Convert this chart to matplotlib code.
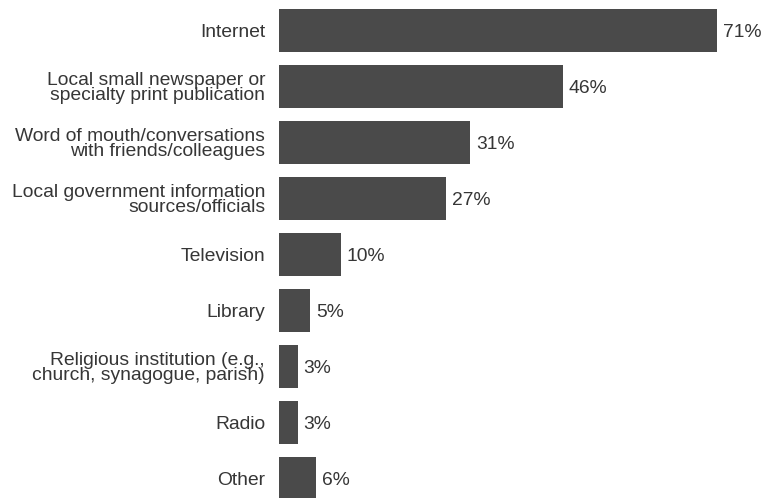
import matplotlib
matplotlib.use("Agg")
import matplotlib.pyplot as plt

categories = [
    "Internet",
    "Local small newspaper or\nspecialty print publication",
    "Word of mouth/conversations\nwith friends/colleagues",
    "Local government information\nsources/officials",
    "Television",
    "Library",
    "Religious institution (e.g.,\nchurch, synagogue, parish)",
    "Radio",
    "Other",
]
values = [71, 46, 31, 27, 10, 5, 3, 3, 6]
value_labels = ["71%", "46%", "31%", "27%", "10%", "5%", "3%", "3%", "6%"]

plt.rcParams['font.family'] = ['Liberation Sans', 'DejaVu Sans']

W, H = 763, 498
fig = plt.figure(figsize=(W / 100, H / 100), dpi=100)
left = 279 / W
ax = fig.add_axes([left, 0, 1 - left, 1])

bar_color = "#4a4a4a"
text_color = "#363636"
ypos = list(range(len(categories)))
ax.barh(ypos, values, height=0.77, color=bar_color)

px_per_unit = 6.17
ax.set_xlim(0, (W - 279) / px_per_unit)
spacing = 56.0
first_center = 30.5
ax.set_ylim((H - first_center) / spacing, -first_center / spacing)

fs = 13.9
for y, v, lab in zip(ypos, values, value_labels):
    ax.annotate(lab, xy=(v, y), xytext=(4.3, 0), textcoords="offset points",
                va="center_baseline", ha="left", fontsize=fs, color=text_color)

ax.set_yticks(ypos)
ax.set_yticklabels(categories, fontsize=fs, color=text_color, linespacing=0.87)
ax.tick_params(axis="y", length=0, pad=10)
ax.set_xticks([])
for s in ax.spines.values():
    s.set_visible(False)

fig.savefig("out.png", dpi=100)
